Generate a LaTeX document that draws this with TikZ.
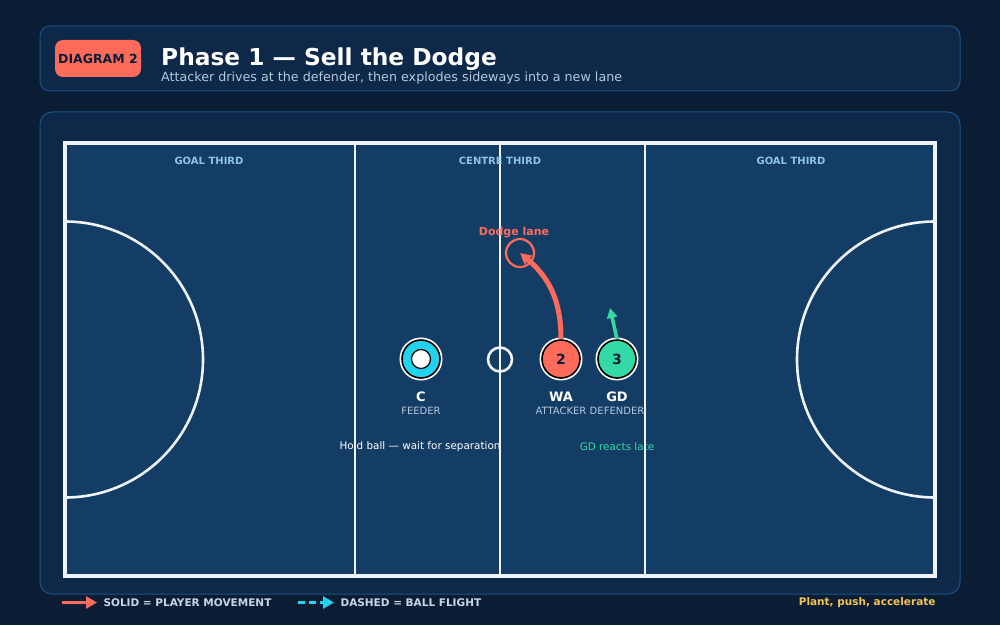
\documentclass[tikz,border=0pt]{standalone}
\usepackage{fontspec}
\setmainfont{DejaVu Sans}
\usetikzlibrary{positioning}
\usetikzlibrary{arrows.meta}

\definecolor{bgnavy}{HTML}{0A1D35}
\definecolor{panelnavy}{HTML}{0D2848}
\definecolor{panelline}{HTML}{1F5283}
\definecolor{courtblue}{HTML}{143D66}
\definecolor{courtline}{HTML}{EEF4FA}
\definecolor{coral}{HTML}{FF6B5B}
\definecolor{cyanball}{HTML}{22D3EE}
\definecolor{mint}{HTML}{34D9A5}
\definecolor{zonelabel}{HTML}{8EC3E6}
\definecolor{subgrey}{HTML}{B4C8DE}
\definecolor{legendgrey}{HTML}{C6D6E6}
\definecolor{gold}{HTML}{F5C451}

\tikzset{
  player/.style={circle, draw=black, line width=1.6pt, minimum size=38pt, inner sep=0pt,
    preaction={draw=white, line width=5pt}, font=\fontsize{14}{14}\selectfont\bfseries, text=bgnavy},
  poslabel/.style={font=\fontsize{13}{13}\selectfont\bfseries, text=white},
  role/.style={font=\fontsize{10}{10}\selectfont, text=subgrey},
  zone/.style={font=\fontsize{10}{10}\selectfont\bfseries, text=zonelabel},
  legend/.style={font=\fontsize{10.5}{10.5}\selectfont\bfseries, text=legendgrey, anchor=west},
  courtln/.style={draw=courtline, line width=2.6pt}
}

\begin{document}
\begin{tikzpicture}[x=1pt, y=1pt]
				\useasboundingbox (0,0) rectangle (1000,625);
				\fill[bgnavy] (0,0) rectangle (1000,625);

				% header
				\draw[fill=panelnavy, draw=panelline, line width=1pt, rounded corners=10pt] (40,534) rectangle (960,599);
				\node[fill=coral, rounded corners=8pt, minimum width=86pt, minimum height=37pt, inner sep=0pt,
				  font=\fontsize{12.5}{12.5}\selectfont\bfseries, text=bgnavy] (badge) at (98,566.5) {DIAGRAM 2};
				\node[anchor=west, inner sep=0pt, font=\fontsize{23.3}{23.3}\selectfont\bfseries, text=white] (title) at (161,566) {Phase 1 — Sell the Dodge};
				\node[anchor=west, inner sep=0pt, font=\fontsize{12.7}{12.7}\selectfont, text=subgrey] (subtitle) at (161,547) {Attacker drives at the defender, then explodes sideways into a new lane};

				% court panel
				\draw[fill=panelnavy, draw=panelline, line width=1pt, rounded corners=12pt] (40,31) rectangle (960,513);
				\fill[courtblue] (65,49) rectangle (935,482);

				% notes (lines run over them)
				\node[font=\fontsize{10.4}{10.4}\selectfont, text=white] (hold) at (420,178.5) {Hold ball — wait for separation};
				\node[font=\fontsize{10.4}{10.4}\selectfont, text=mint] (react) at (617,178.5) {GD reacts late};
				\node[role] (feedrole) at (421,214.5) {FEEDER};
				\node[role] (attrole) at (561,214.5) {ATTACKER};
				\node[role] (defrole) at (617,214.5) {DEFENDER};

				% lines
				\draw[courtln] (355,49) -- (355,482);
				\draw[courtln] (645,49) -- (645,482);
				\draw[courtln] (500,49) -- (500,482);
				\draw[courtln] (500,265.5) circle (12);
				\draw[courtln] (65,127.5) arc (-90:90:138);
				\draw[courtln] (935,403.5) arc (90:270:138);
				\draw[draw=courtline, line width=4pt] (65,49) rectangle (935,482);

				\node[zone] (goalL) at (209,464) {GOAL THIRD};
				\node[zone] (centre) at (500,464) {CENTRE THIRD};
				\node[zone] (goalR) at (791,464) {GOAL THIRD};

				% players
				\node[player, fill=cyanball] (c) at (421,266) {};
				\node[circle, fill=white, draw=black, line width=1.2pt, minimum size=19pt, inner sep=0pt] (ball) at (c) {};
				\node[player, fill=coral] (wa) at (561,266) {2};
				\node[player, fill=mint] (gd) at (617,266) {3};

				\node[poslabel] (clab) at (421,228.5) {C};
				\node[poslabel] (walab) at (561,228.5) {WA};
				\node[poslabel] (gdlab) at (617,228.5) {GD};

				% dodge lane
				\node[circle, draw=coral, line width=2.2pt, minimum size=28pt, inner sep=0pt] (dodge) at (520,372) {};
				\node[font=\fontsize{11}{11}\selectfont\bfseries, text=coral] (dodgelab) at (514,392.5) {Dodge lane};
				\coordinate (gdrun) at (610,317);

				\draw[coral, line width=5pt, -{Triangle[length=11pt, width=11pt]}]
				  (wa.north) .. controls (561,320) and (552,345) .. (dodge.center);
				\draw[mint, line width=3.5pt, -{Triangle[length=10pt, width=10pt]}] (gd.north) -- (gdrun);

				% legend
				\coordinate (solidA) at (62,22.5);
				\coordinate (solidB) at (97,22.5);
				\coordinate (dashA) at (298,22.5);
				\coordinate (dashB) at (334,22.5);
				\draw[coral, line width=3.5pt, -{Triangle[length=11pt, width=12pt]}] (solidA) -- (solidB);
				\draw[cyanball, line width=3.5pt, dash pattern=on 7pt off 4pt, -{Triangle[length=11pt, width=12pt]}] (dashA) -- (dashB);
				\node[legend] (solidtxt) at (100,22.5) {SOLID = PLAYER MOVEMENT};
				\node[legend] (dashtxt) at (337,22.5) {DASHED = BALL FLIGHT};
				\node[font=\fontsize{10.5}{10.5}\selectfont\bfseries, text=gold, anchor=east] (tip) at (939,22.5) {Plant, push, accelerate};
			\end{tikzpicture}
\end{document}
